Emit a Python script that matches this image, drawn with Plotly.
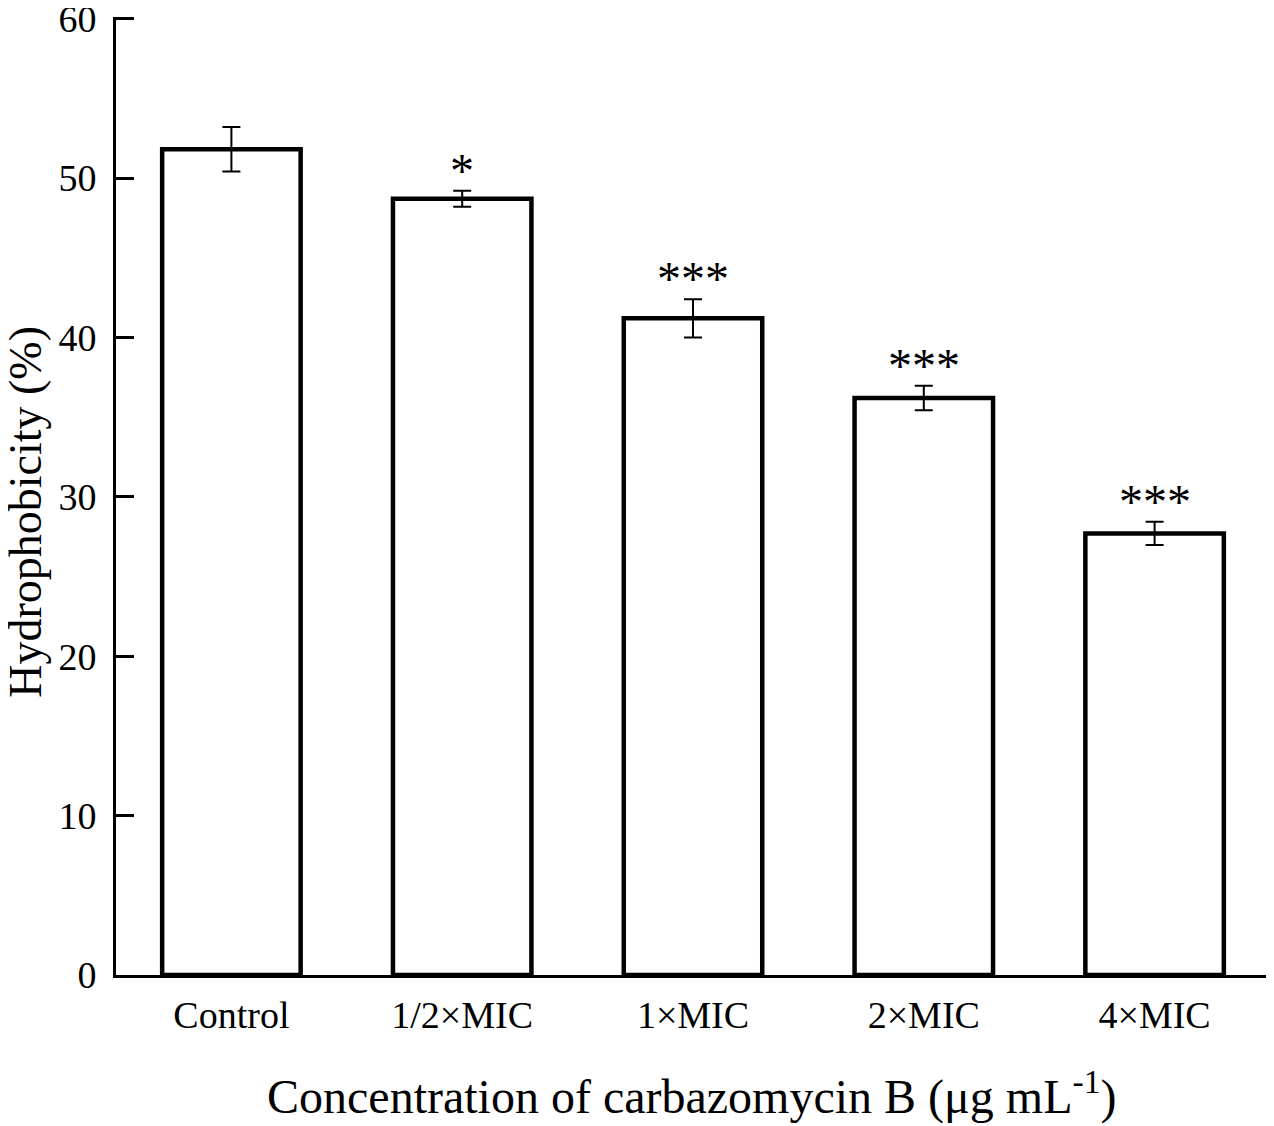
import plotly.graph_objects as go

categories = ["Control", "1/2×MIC", "1×MIC", "2×MIC", "4×MIC"]
values = [51.8, 48.7, 41.2, 36.2, 27.7]
errors = [1.4, 0.5, 1.2, 0.77, 0.73]
significance = ["", "*", "***", "***", "***"]
y_ticks = [0, 10, 20, 30, 40, 50, 60]

FONT = "Liberation Serif, Times New Roman, serif"

fig = go.Figure()
fig.add_trace(go.Bar(
    x=categories, y=values,
    marker=dict(color="white", line=dict(color="black", width=4.5)),
    error_y=dict(type="data", array=errors, visible=True, color="black", thickness=2, width=9),
    showlegend=False,
))

for c, v, e, s in zip(categories, values, errors, significance):
    if s:
        fig.add_annotation(x=c, y=v + e, text=s, showarrow=False, xref="x", yref="y",
                           yanchor="bottom", yshift=-8,
                           font=dict(family=FONT, size=48, color="black"))

fig.add_annotation(text="Hydrophobicity (%)", textangle=-90, xref="paper", yref="paper",
                   x=-0.0782, y=0.4833, showarrow=False, xanchor="center", yanchor="middle",
                   font=dict(family=FONT, size=46, color="black"))
fig.add_annotation(text="Concentration of carbazomycin B (μg mL<sup>-1</sup>)", xref="paper", yref="paper",
                   x=0.4983, y=-0.1232, showarrow=False, xanchor="center", yanchor="middle",
                   font=dict(family=FONT, size=48, color="black"))

fig.update_layout(
    width=1266, height=1118,
    margin=dict(l=108, r=4, t=9, b=151, autoexpand=False),
    paper_bgcolor="white", plot_bgcolor="white",
    bargap=0.4,
    font=dict(family=FONT, color="black"),
)
fig.update_xaxes(type="category", range=[-0.5, 4.5], showline=True, linecolor="black", linewidth=3,
                 ticks="", showgrid=False, zeroline=False, automargin=False,
                 tickfont=dict(family=FONT, size=38, color="black"), ticklabelstandoff=4)
fig.update_yaxes(range=[0, 60.1], tickvals=y_ticks, showline=True, linecolor="black", linewidth=3,
                 ticks="inside", ticklen=18, tickwidth=3, tickcolor="black",
                 showgrid=False, zeroline=False, ticklabeloverflow="allow", automargin=False,
                 tickfont=dict(family=FONT, size=38, color="black"), ticklabelstandoff=9)

fig.write_html("out.html")
